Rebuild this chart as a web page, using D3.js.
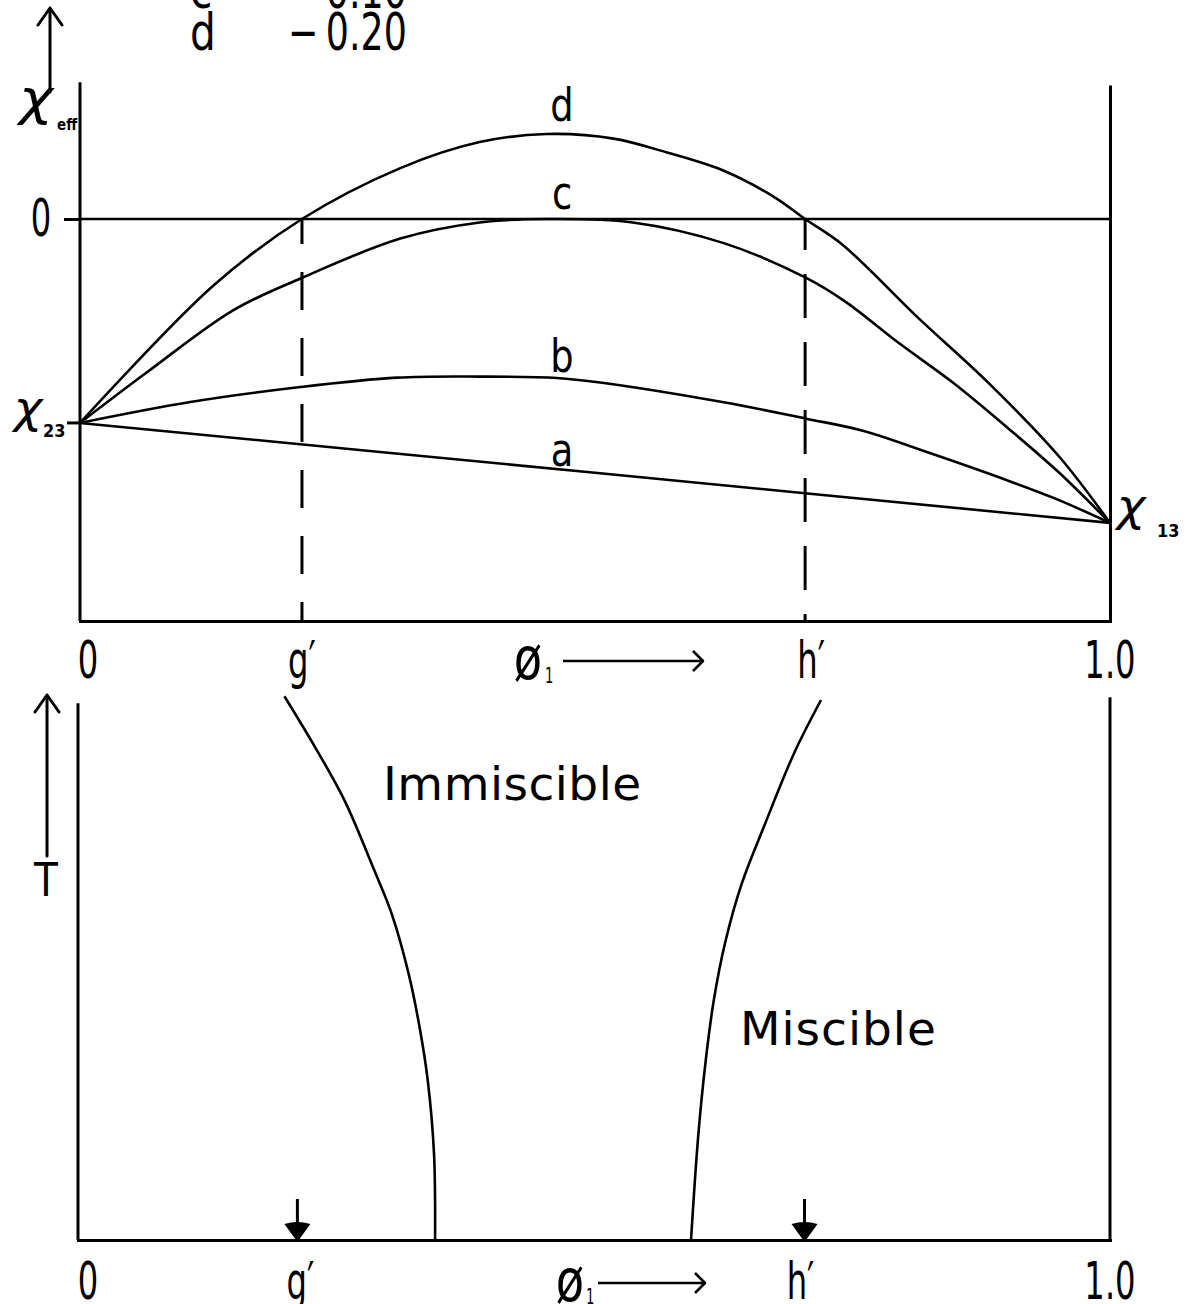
<!DOCTYPE html>
<html>
<head>
<meta charset="utf-8">
<script src="https://cdn.jsdelivr.net/npm/d3@7"></script>
<style>
  body { margin: 0; background: #fff; }
  svg { display: block; }
  text { font-family: "DejaVu Sans", sans-serif; fill: #000; }
</style>
</head>
<body>
<svg id="chart" width="1193" height="1304"></svg>
<script>
// ---- data -------------------------------------------------------------
// Special compositions marked on the phi_1 axis
const gPrime = 0.2155;
const hPrime = 0.704;

// Tick labels along the phi_1 axis (both panels)
const phiTickValues = [0, gPrime, hPrime, 1.0];
const phiTickLabels = ["0", "g\u2032", "h\u2032", "1.0"];

// Legend rows (curve key, chi_12 value)
const legendKeys = ["c", "d"];
const legendValues = ["\u2212\u20090.10", "\u2212\u20090.20"];

// End points of the chi_eff curves
const chi23 = -0.761;
const chi13 = -1.134;

// chi_eff versus phi_1 for each curve
const phiA = [0, 0.5, 1];
const chiA = [chi23, -0.947, chi13];

const phiB = [0, 0.107, 0.214, 0.308, 0.388, 0.463, 0.505, 0.625, 0.705, 0.760, 0.830, 0.900, 0.951, 1];
const chiB = [chi23, -0.683, -0.627, -0.592, -0.588, -0.593, -0.610, -0.684, -0.745, -0.790, -0.880, -0.975, -1.050, chi13];

const phiC = [0, 0.065, 0.149, 0.214, 0.311, 0.388, 0.453, 0.535, 0.625, 0.705, 0.744, 0.795, 0.848, 0.903, 0.951, 1];
const chiC = [chi23, -0.572, -0.340, -0.222, -0.073, -0.013, 0.0, -0.012, -0.090, -0.220, -0.311, -0.463, -0.612, -0.787, -0.948, chi13];

const phiD = [0, 0.129, gPrime, 0.311, 0.388, 0.453, 0.518, 0.570, 0.625, 0.674, hPrime, 0.740, 0.813, 0.883, 0.951, 1];
const chiD = [chi23, -0.250, 0.0, 0.190, 0.287, 0.317, 0.300, 0.248, 0.180, 0.082, 0.0, -0.095, -0.366, -0.615, -0.888, chi13];

const curveKeys = ["a", "b", "c", "d"];

// Phase boundary (binodal) in the T - phi_1 plane
const tLeft   = [1.007, 0.915, 0.815, 0.685, 0.604, 0.496, 0.394, 0.294, 0.159, 0.0];
const phiLeft = [0.200, 0.229, 0.258, 0.287, 0.304, 0.320, 0.331, 0.339, 0.345, 0.346];
const tRight   = [1.0, 0.902, 0.767, 0.659, 0.550, 0.443, 0.328, 0.193, 0.0];
const phiRight = [0.720, 0.694, 0.665, 0.643, 0.627, 0.616, 0.608, 0.601, 0.594];

// ---- scales -----------------------------------------------------------
const svg = d3.select("#chart");

const xTop = d3.scaleLinear().domain([0, 1]).range([80, 1110]);
const yTop = d3.scaleLinear().domain([-1.5, 0.5]).range([621, 85]);
const xBot = d3.scaleLinear().domain([0, 1]).range([78, 1110]);
const yBot = d3.scaleLinear().domain([0, 1]).range([1240, 700]);

const FRAME_W = 3;
const CURVE_W = 2.6;

// condensed text helper
function label(sel, s, x, y, opt = {}) {
  return sel.append("text")
    .attr("transform", `translate(${x},${y}) scale(${opt.sx ?? 0.62},1)`)
    .attr("text-anchor", opt.anchor || "middle")
    .attr("font-size", opt.size || 52)
    .attr("font-style", opt.italic ? "italic" : null)
    .attr("font-weight", opt.bold ? "bold" : null)
    .text(s);
}

function styleAxis(g) {
  g.select(".domain").attr("stroke", "#000").attr("stroke-width", FRAME_W);
  g.selectAll(".tick line").attr("stroke", "#000").attr("stroke-width", FRAME_W);
  g.selectAll(".tick text").remove();
}

function upArrow(sel, x, y0, y1) {
  sel.append("path")
    .attr("d", `M${x},${y0} L${x},${y1} M${x - 12},${y1 + 17} L${x},${y1} L${x + 12},${y1 + 17}`)
    .attr("fill", "none").attr("stroke", "#000").attr("stroke-width", 3)
    .attr("stroke-linecap", "round").attr("stroke-linejoin", "round");
}

function rightArrow(sel, x0, x1, y) {
  sel.append("path")
    .attr("d", `M${x0},${y} L${x1},${y} M${x1 - 10},${y - 10} L${x1},${y} L${x1 - 10},${y + 10}`)
    .attr("fill", "none").attr("stroke", "#000").attr("stroke-width", 2.6)
    .attr("stroke-linejoin", "round");
}

// ---- top panel: chi_eff vs phi_1 --------------------------------------
const topG = svg.append("g");

// legend (first rows run off the top edge)
legendKeys.forEach((k, i) => {
  const yb = 8 + i * 42;
  label(topG, k, 190, yb, { anchor: "start", size: 52, sx: 0.78 });
  label(topG, legendValues[i], 288, yb, { anchor: "start", size: 52, sx: 0.7 });
});

// y axis (left), with the zero tick
const yAxisG = topG.append("g").attr("transform", `translate(${xTop(0)},0)`)
  .call(d3.axisLeft(yTop).tickValues([0]).tickSize(16).tickSizeOuter(0));
styleAxis(yAxisG);
yAxisG.select(".domain").attr("d", `M0,${yTop(0.51)}V${yTop(-1.5)}`);

// right edge
const rAxisG = topG.append("g").attr("transform", `translate(${xTop(1)},0)`)
  .call(d3.axisRight(yTop).tickValues([]).tickSizeOuter(0));
styleAxis(rAxisG);

// bottom edge
const bAxisG = topG.append("g").attr("transform", `translate(0,${yTop(-1.5)})`)
  .call(d3.axisBottom(xTop).tickValues([]).tickSizeOuter(0));
styleAxis(bAxisG);
bAxisG.select(".domain").attr("stroke-linecap", "square");

// zero line
topG.append("line")
  .attr("x1", xTop(0)).attr("x2", xTop(1))
  .attr("y1", yTop(0)).attr("y2", yTop(0))
  .attr("stroke", "#000").attr("stroke-width", 2.6);

// dashed verticals at g' and h'
[gPrime, hPrime].forEach((p, i) => {
  topG.append("line")
    .attr("x1", xTop(p)).attr("x2", xTop(p))
    .attr("y1", yTop(0)).attr("y2", yTop(-1.5))
    .attr("stroke", "#000").attr("stroke-width", 3)
    .attr("stroke-dasharray", i === 0 ? "38,28" : "44,24")
    .attr("stroke-dashoffset", 13);
});

// curves
const lineTop = d3.line()
  .x(d => xTop(d[0])).y(d => yTop(d[1]))
  .curve(d3.curveCatmullRom.alpha(0.5));
const curveSets = [
  d3.zip(phiA, chiA), d3.zip(phiB, chiB), d3.zip(phiC, chiC), d3.zip(phiD, chiD)
];
topG.selectAll("path.curve").data(curveSets).join("path")
  .attr("class", "curve")
  .attr("d", lineTop)
  .attr("fill", "none").attr("stroke", "#000").attr("stroke-width", CURVE_W)
  .attr("stroke-linejoin", "round");

// curve keys, placed just above each curve near phi_1 = 0.47
const keyGap = [4, 7, 11, 14];
const keyBaselines = [chiA, chiB, chiC, chiD].map((c, i) => {
  const phis = [phiA, phiB, phiC, phiD][i];
  const y = d3.scaleLinear().domain(phis).range(c)(0.47);
  return yTop(y) - keyGap[i];
});
curveKeys.forEach((k, i) => {
  label(topG, k, xTop(0.468), keyBaselines[i], { size: 46, sx: 0.8 });
});

// y-axis labels
upArrow(topG, 50, 92, 8);
label(topG, "\u03C7", 36, 115, { size: 50, sx: 1.15, italic: true });
label(topG, "eff", 57, 130, { anchor: "start", size: 15, sx: 0.9, bold: true });
label(topG, "0", 41, 236, { size: 52 });

label(topG, "\u03C7", 28, 423, { size: 44, sx: 1.1, italic: true });
label(topG, "23", 43, 437, { anchor: "start", size: 17, sx: 0.95, bold: true });
topG.append("line").attr("x1", 67).attr("x2", xTop(0))
  .attr("y1", yTop(chi23)).attr("y2", yTop(chi23))
  .attr("stroke", "#000").attr("stroke-width", 3);

label(topG, "\u03C7", 1131, 521, { size: 44, sx: 1.1, italic: true });
label(topG, "13", 1157, 537, { anchor: "start", size: 17, sx: 0.95, bold: true });

// phi_1 tick labels
const labelDx = [8, 0, 6, 0];
phiTickValues.forEach((v, i) => {
  label(topG, phiTickLabels[i], xTop(v) + labelDx[i], 678, { size: 52 });
});
label(topG, "\u00F8", 528, 679, { size: 58, sx: 0.8 });
label(topG, "1", 545, 683, { anchor: "start", size: 22, sx: 0.6 });
rightArrow(topG, 563, 703, 661);

// ---- bottom panel: T vs phi_1 -----------------------------------------
const botG = svg.append("g");

const lAxis2 = botG.append("g").attr("transform", `translate(${xBot(0)},0)`)
  .call(d3.axisLeft(yBot).tickValues([]).tickSizeOuter(0));
styleAxis(lAxis2);
lAxis2.select(".domain").attr("d", `M0,${yBot(0.994)}V${yBot(0)}`);

const rAxis2 = botG.append("g").attr("transform", `translate(${xBot(1)},0)`)
  .call(d3.axisRight(yBot).tickValues([]).tickSizeOuter(0));
styleAxis(rAxis2);
rAxis2.select(".domain").attr("d", `M0,${yBot(1.005)}V${yBot(0)}`);

const bAxis2 = botG.append("g").attr("transform", `translate(0,${yBot(0)})`)
  .call(d3.axisBottom(xBot).tickValues([]).tickSizeOuter(0));
styleAxis(bAxis2);
bAxis2.select(".domain").attr("stroke-linecap", "square");

// binodal branches
const lineBot = d3.line()
  .x(d => xBot(d[0])).y(d => yBot(d[1]))
  .curve(d3.curveCatmullRom.alpha(0.5));
botG.selectAll("path.binodal")
  .data([d3.zip(phiLeft, tLeft), d3.zip(phiRight, tRight)])
  .join("path")
  .attr("class", "binodal")
  .attr("d", lineBot)
  .attr("fill", "none").attr("stroke", "#000").attr("stroke-width", CURVE_W);

// region labels
botG.append("text").attr("x", 383).attr("y", 800)
  .attr("font-size", 47).attr("letter-spacing", 0.5).text("Immiscible");
botG.append("text").attr("x", 740).attr("y", 1045)
  .attr("font-size", 47).attr("letter-spacing", 1).text("Miscible");

// down arrows marking g' and h' on the phi_1 axis
[[gPrime, -3], [hPrime, 0]].forEach(([p, dx]) => {
  const x = xBot(p) + dx;
  botG.append("line").attr("x1", x).attr("x2", x)
    .attr("y1", 1199).attr("y2", 1228)
    .attr("stroke", "#000").attr("stroke-width", 3);
  botG.append("path")
    .attr("d", `M${x - 13},${1224} Q${x},${1220} ${x + 13},${1224} L${x},${1242} Z`)
    .attr("fill", "#000");
});

// T axis label
upArrow(botG, 47, 856, 695);
label(botG, "T", 46, 896, { size: 46, sx: 0.85 });

// phi_1 tick labels
const labelDx2 = [10, 0, -4, 0];
phiTickValues.forEach((v, i) => {
  label(botG, phiTickLabels[i], xBot(v) + labelDx2[i], 1299, { size: 52 });
});
label(botG, "\u00F8", 570, 1301, { size: 58, sx: 0.8 });
label(botG, "1", 586, 1304, { anchor: "start", size: 22, sx: 0.6 });
rightArrow(botG, 598, 705, 1283);
</script>
</body>
</html>
